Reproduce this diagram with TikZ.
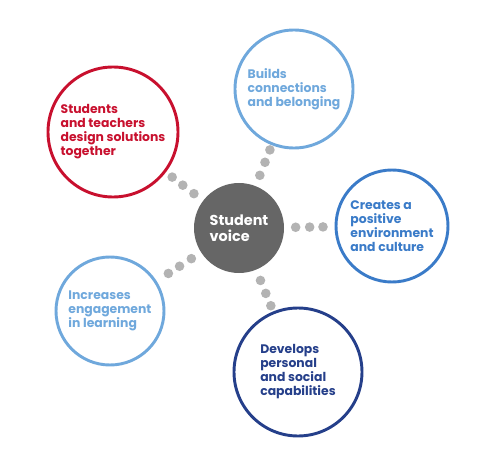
\documentclass[tikz,border=0pt]{standalone}
\usepackage{fontspec}
\setmainfont{Poppins}
\usetikzlibrary{calc}

\definecolor{svred}{RGB}{200,16,46}
\definecolor{svlight}{RGB}{111,168,220}
\definecolor{svmid}{RGB}{58,123,200}
\definecolor{svnavy}{RGB}{37,63,138}
\definecolor{svgrey}{RGB}{102,102,102}
\definecolor{svdot}{RGB}{179,179,179}

\tikzset{
  ring/.style={circle,draw=#1,line width=2.2pt,inner sep=0pt,text=#1,
    align=left,font=\fontsize{9.3}{10.5}\selectfont\bfseries},
  hubdisc/.style={circle,fill=svgrey,inner sep=0pt,minimum size=67.5pt,text=white,
    align=left,font=\fontsize{10.8}{12}\selectfont\bfseries}
}

\begin{document}
\begin{tikzpicture}[x=0.75pt,y=0.75pt,yscale=-1,xscale=1]
\useasboundingbox (0,0) rectangle (496,474);

%Shape: Circle [id:hub]
\node [hubdisc] (hub) at (239,228) {Student\\voice};

%Shape: Circle [id:together]
\node [ring=svred,minimum size=97.5pt] (together) at (113,132) {Students\\and teachers\\design solutions\\together};
%Shape: Circle [id:builds]
\node [ring=svlight,minimum size=88.5pt] (builds) at (294,89) {Builds\\connections\\and belonging};
%Shape: Circle [id:creates]
\node [ring=svmid,minimum size=84pt] (creates) at (392,226) {Creates a\\positive\\environment\\and culture};
%Shape: Circle [id:increases]
\node [ring=svlight,minimum size=81pt] (increases) at (110,311) {Increases\\engagement\\in learning};
%Shape: Circle [id:develops]
\node [ring=svnavy,minimum size=96pt] (develops) at (298,372) {Develops\\personal\\and social\\capabilities};

%Dots between hub and rings
\foreach \ring in {together,builds,creates,increases,develops}
  \foreach \d in {42.5pt,53pt,63pt}
    \fill [svdot] ($(hub.center)!\d!(\ring.center)$) circle (3.6pt);

\end{tikzpicture}
\end{document}
